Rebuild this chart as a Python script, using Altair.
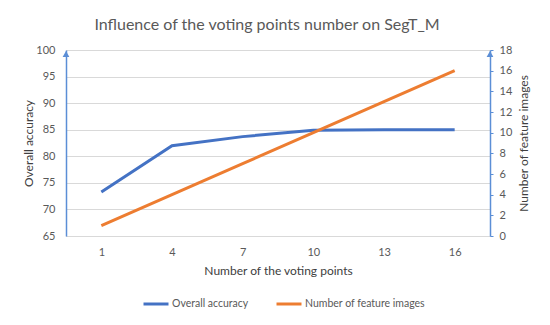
import altair as alt
import pandas as pd

voting_points = [1, 4, 7, 10, 13, 16]
overall_accuracy = [73.3, 82.0, 83.7, 84.9, 85.0, 85.0]
feature_images = [1, 4, 7, 10, 13, 16]

df = pd.DataFrame({
    "vp": voting_points,
    "acc": overall_accuracy,
    "feat": feature_images,
})

FONT = "Lato"
TXT = "#595959"
BLUE = "#4472C4"
ORANGE = "#ED7D31"
AXBLUE = "#5B8ED6"

xenc = alt.X("vp:O", title="Number of the voting points",
             scale=alt.Scale(type="point", padding=0.5),
             axis=alt.Axis(labelAngle=0, ticks=False, domain=True, domainColor="#D9D9D9",
                           labelPadding=10, titlePadding=8, labelFontSize=11,
                           titleFontSize=12, labelColor=TXT, titleColor="#404040",
                           grid=False))

color = alt.Color("series:N",
                  scale=alt.Scale(domain=["Overall accuracy", "Number of feature images"],
                                  range=[BLUE, ORANGE]),
                  legend=alt.Legend(title=None, orient="none", direction="horizontal",
                                    legendX=76, legendY=240, symbolType="stroke",
                                    symbolSize=625, symbolStrokeWidth=3,
                                    labelFontSize=10.5, labelColor=TXT, labelFont=FONT,
                                    columnPadding=21, labelOffset=2))

acc = alt.Chart(df).transform_calculate(series="'Overall accuracy'").mark_line(
    strokeWidth=3).encode(
    x=xenc,
    y=alt.Y("acc:Q", title="Overall accuracy",
            scale=alt.Scale(domain=[65, 100], nice=False, zero=False),
            axis=alt.Axis(values=[65, 70, 75, 80, 85, 90, 95, 100], ticks=False,
                          domainColor=AXBLUE, domainWidth=1.5, gridColor="#D9D9D9",
                          labelPadding=11, labelFontSize=11, labelColor=TXT,
                          titleFontSize=12, titleColor="#404040",
                          titleX=-38, titleY=93, titleAngle=270, titleAlign="center",
                          titleBaseline="middle")),
    color=color,
)

feat = alt.Chart(df).transform_calculate(series="'Number of feature images'").mark_line(
    strokeWidth=3).encode(
    x=xenc,
    y=alt.Y("feat:Q", title="Number of feature images",
            scale=alt.Scale(domain=[0, 18], nice=False),
            axis=alt.Axis(orient="right", values=list(range(0, 19, 2)), grid=False,
                          ticks=True, tickSize=3, tickColor=AXBLUE,
                          domainColor=AXBLUE, domainWidth=1.5,
                          labelPadding=6, labelFontSize=11, labelColor=TXT,
                          titleFontSize=12, titleColor="#404040",
                          titleX=33, titleY=93, titleAngle=270, titleAlign="center",
                          titleBaseline="middle")),
    color=color,
)

arrow_l = alt.Chart(df.head(1)).mark_point(shape="triangle-up", filled=True, size=45,
                                             color=AXBLUE, opacity=1).encode(
    x=alt.value(0), y=alt.value(4))
arrow_r = alt.Chart(df.head(1)).mark_point(shape="triangle-up", filled=True, size=45,
                                             color=AXBLUE, opacity=1).encode(
    x=alt.value(424), y=alt.value(4))

chart = alt.layer(acc, feat, arrow_l, arrow_r).resolve_scale(y="independent").properties(
    width=424, height=186,
    autosize=alt.AutoSizeParams(type="none"),
    padding={"left": 58, "top": 42, "right": 52, "bottom": 81},
    title=alt.Title("Influence of the voting points number on SegT_M", fontSize=16,
                    font=FONT, fontWeight="normal", color=TXT, offset=11, dx=-11),
).configure_view(stroke=None).configure(font=FONT).configure_axis(
    labelFont=FONT, titleFont=FONT, titleFontWeight="normal")

chart.save("out.html", embed_options={"renderer": "svg", "actions": False})
